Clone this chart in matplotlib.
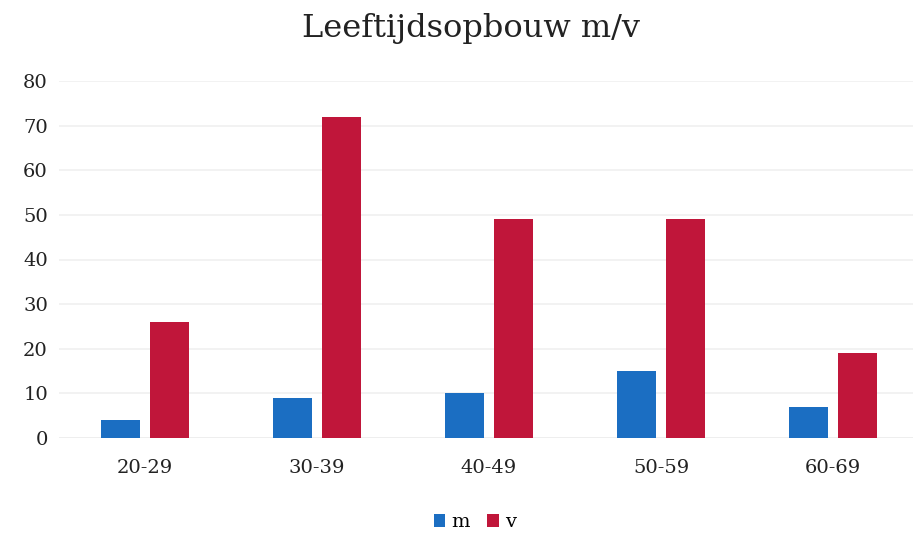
import numpy as np
import matplotlib.pyplot as plt

# age groups and counts per sex
categories = ['20-29', '30-39', '40-49', '50-59', '60-69']
m_values = [4, 9, 10, 15, 7]
v_values = [26, 72, 49, 49, 19]

blue = '#1b6ec2'
red = '#c0163a'

plt.rcParams['font.family'] = ['DejaVu Serif']

fig = plt.figure(figsize=(9.13, 5.33), dpi=100)
ax = fig.add_axes([59 / 913, 95 / 533, 1 - 59 / 913, 357 / 533])

x = np.arange(len(categories))
width = 0.227
ax.bar(x - 0.142, m_values, width, color=blue, label='m')
ax.bar(x + 0.142, v_values, width, color=red, label='v')

ax.set_xlim(-0.5, 4.5 - 6 / 172)
ax.set_ylim(0, 80)
ax.set_yticks(range(0, 81, 10))
ax.set_xticks(x)
ax.set_xticklabels(categories)
ax.tick_params(axis='both', length=0, labelsize=14, colors='#222222')
ax.tick_params(axis='x', pad=15)
ax.tick_params(axis='y', pad=8)

ax.grid(axis='y', color='#f0f0f0', linewidth=1.2)
ax.set_axisbelow(True)
for s in ax.spines.values():
    s.set_visible(False)
ax.axhline(0, color='#e6e6e6', linewidth=1.2, zorder=0)

fig.suptitle('Leeftijdsopbouw m/v', fontsize=23, x=0.516, y=0.975, color='#222222')

fig.legend(loc='lower center', bbox_to_anchor=(0.52, -0.03), ncol=2, frameon=False,
           fontsize=14, handlelength=0.6, handleheight=0.6, handletextpad=0.3,
           columnspacing=0.9)

fig.savefig('out.png', dpi=100)
